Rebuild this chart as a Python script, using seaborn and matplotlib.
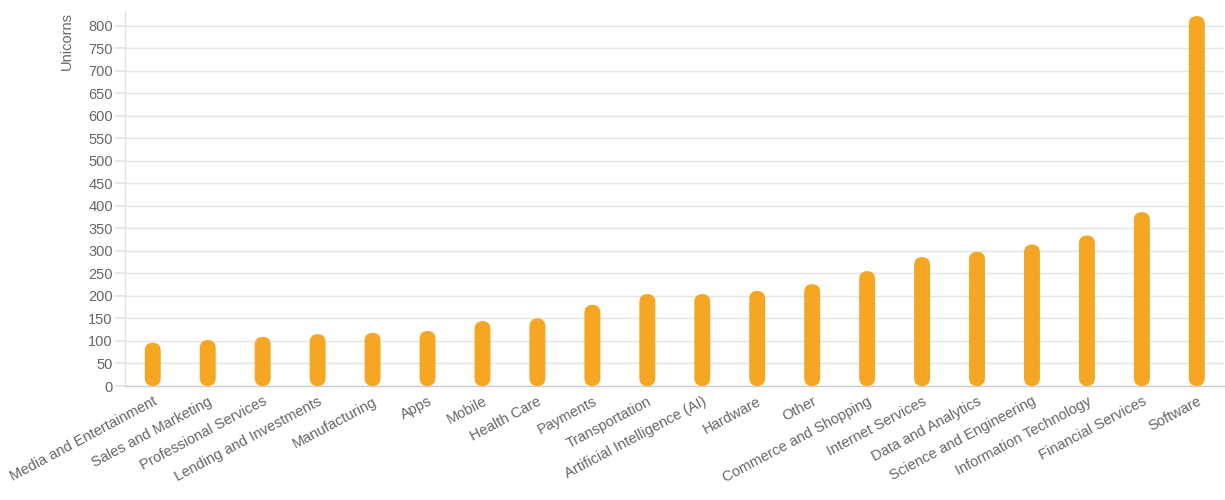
import numpy as np
import pandas as pd
import matplotlib
matplotlib.use("Agg")
import matplotlib.pyplot as plt
from matplotlib.patches import FancyBboxPatch
import seaborn as sns

categories = ["Media and Entertainment", "Sales and Marketing", "Professional Services",
              "Lending and Investments", "Manufacturing", "Apps", "Mobile", "Health Care",
              "Payments", "Transportation", "Artificial Intelligence (AI)", "Hardware", "Other",
              "Commerce and Shopping", "Internet Services", "Data and Analytics",
              "Science and Engineering", "Information Technology", "Financial Services", "Software"]
unicorns = [96, 102, 109, 115, 118, 122, 144, 150, 180, 204, 204, 211, 226,
            255, 286, 298, 314, 334, 386, 821]
y_ticks = list(range(0, 801, 50))

BAR = "#F5A623"
TXT = "#666666"
GRID = "#e4e4e4"

sns.set_theme(style="white")
plt.rcParams["font.family"] = ["Liberation Sans", "DejaVu Sans"]

df = pd.DataFrame({"category": categories, "unicorns": unicorns})

W, H = 1225, 500
fig = plt.figure(figsize=(W / 100, H / 100), dpi=100)
ax = fig.add_axes([125.3 / W, (H - 386) / H, 1099 / W, (386 - 12) / H])

sns.barplot(data=df, x="category", y="unicorns", color=BAR, width=0.29,
            saturation=1, ax=ax, zorder=3)

ax.set_xlim(-0.5, len(categories) - 0.5)
ax.set_ylim(0, 830)
ax.set_yticks(y_ticks)
ax.set_yticklabels([str(t) for t in y_ticks])

# convert rectangles to rounded bars
fig.canvas.draw()
px_per_x = ax.transData.transform((1, 0))[0] - ax.transData.transform((0, 0))[0]
px_per_y = ax.transData.transform((0, 1))[1] - ax.transData.transform((0, 0))[1]
aspect = px_per_x / px_per_y
for p in list(ax.patches):
    x, y0, w, h = p.get_x(), p.get_y(), p.get_width(), p.get_height()
    p.remove()
    fb = FancyBboxPatch((x, y0), w, h,
                        boxstyle=f"round,pad=0,rounding_size={w / 2}",
                        mutation_aspect=aspect, facecolor=BAR, edgecolor="none",
                        zorder=3)
    ax.add_patch(fb)

ax.grid(axis="y", color=GRID, linewidth=1, zorder=0)
ax.grid(axis="x", visible=False)
for s in ["top", "right"]:
    ax.spines[s].set_visible(False)
ax.spines["left"].set_color(GRID)
ax.spines["left"].set_linewidth(1)
ax.spines["bottom"].set_color("#cccccc")
ax.spines["bottom"].set_linewidth(1)

ax.tick_params(axis="y", length=7, color=GRID, labelsize=10.5, labelcolor=TXT, pad=2, left=True)
ax.tick_params(axis="x", length=0, labelsize=10.5, labelcolor=TXT, pad=6)
for lab in ax.get_xticklabels():
    lab.set_rotation(28)
    lab.set_ha("right")
    lab.set_va("top")
    lab.set_rotation_mode("anchor")

ax.set_xlabel("")
ax.set_ylabel("Unicorns", loc="top", color=TXT, fontsize=10.5, labelpad=10)

fig.savefig("out.png", dpi=100, facecolor="white")
